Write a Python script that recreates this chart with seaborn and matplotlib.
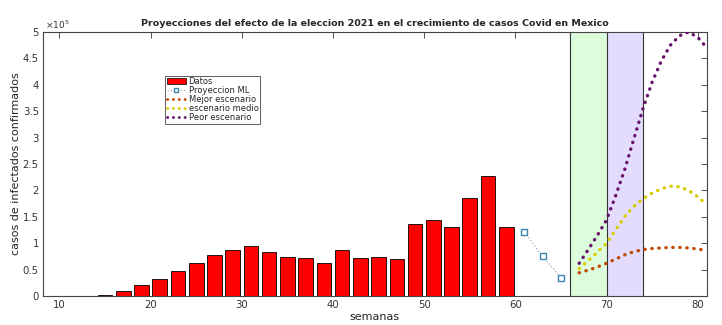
import matplotlib
matplotlib.use("Agg")
import matplotlib.pyplot as plt
import seaborn as sns
import numpy as np
import pandas as pd
from matplotlib.ticker import FuncFormatter, MultipleLocator
from matplotlib.patches import Patch
from matplotlib.lines import Line2D

# ---- data ----
weeks_data = [15, 17, 19, 21, 23, 25, 27, 29, 31, 33, 35, 37, 39, 41, 43, 45, 47, 49, 51, 53, 55, 57, 59]
cases_data = [2700, 9500, 20000, 33000, 47000, 62000, 77000, 87000, 95000, 83000, 73000, 72000, 62000,
              88000, 72000, 74500, 71000, 136000, 144500, 130000, 185600, 227000, 131000]

weeks_ml = [61, 63, 65]
cases_ml = [121000, 75000, 35000]

weeks_proj = [67, 68, 69, 70, 71, 72, 73, 74, 75, 76, 77, 78, 79, 80, 81]
mejor = [44000, 49000, 55000, 62000, 70000, 78000, 84000, 88000, 90000, 91000, 92000, 92000, 91000, 89000, 86000]
medio = [52000, 67000, 83000, 100000, 125000, 151000, 170000, 184000, 195000, 203000, 208000, 207000, 200000, 188000, 173000]
peor = [62000, 88000, 115000, 144000, 190000, 240000, 298000, 355000, 405000, 445000, 475000, 493000, 500000, 490000, 470000]

green_span = (66, 70)
purple_span = (70, 74)

title = "Proyecciones del efecto de la eleccion 2021 en el crecimiento de casos Covid en Mexico"
labels = ["Datos", "Proyeccion ML", "Mejor escenario", "escenario medio", "Peor escenario"]

# ---- style ----
sns.set_theme(style="white")
plt.rcParams['font.family'] = ['DejaVu Sans']
plt.rcParams['xtick.direction'] = 'in'
plt.rcParams['ytick.direction'] = 'in'

fig = plt.figure(figsize=(7.22, 3.25), dpi=100)
ax = fig.add_axes([0.0596, 0.0892, 0.9194, 0.8123])

c_mejor = "#c04800"
c_medio = "#d8cc00"
c_peor = "#66106a"
dot = (0, (0.1, 2.0))

ax.axvspan(*green_span, color="#dcfcdc", zorder=0, lw=0)
ax.axvspan(*purple_span, color="#e3dcfc", zorder=0, lw=0)
for v in (green_span[0], green_span[1], purple_span[1]):
    ax.axvline(v, color="#333333", lw=0.8, zorder=1)

df_bar = pd.DataFrame({"semana": weeks_data, "casos": cases_data})
sns.barplot(data=df_bar, x="semana", y="casos", native_scale=True, width=0.8,
            color="#ff0000", saturation=1, edgecolor="black", linewidth=0.6, ax=ax, zorder=2)

df_ml = pd.DataFrame({"semana": weeks_ml, "casos": cases_ml})
sns.lineplot(data=df_ml, x="semana", y="casos", ax=ax, color="#aaaaaa", lw=0.9, linestyle=":",
             marker="s", markersize=4, markerfacecolor="white", markeredgecolor="#3a86b0",
             markeredgewidth=1.0, zorder=3)

for vals, col in ((mejor, c_mejor), (medio, c_medio), (peor, c_peor)):
    dfp = pd.DataFrame({"semana": weeks_proj, "casos": vals})
    sns.lineplot(data=dfp, x="semana", y="casos", ax=ax, color=col, lw=2.4,
                 linestyle=dot, dash_capstyle="round", zorder=4)

ax.set_xlim(8.2, 81)
ax.set_ylim(0, 500000)
ax.xaxis.set_major_locator(MultipleLocator(10))
ax.yaxis.set_major_locator(MultipleLocator(50000))
ax.yaxis.set_major_formatter(FuncFormatter(lambda v, p: f"{v/1e5:g}"))
ax.tick_params(axis="both", which="both", top=True, right=True, length=4, width=0.6,
               labelsize=7.3, colors="#333333", pad=3)
for s in ax.spines.values():
    s.set_color("#444444")
    s.set_linewidth(0.8)

ax.set_xlabel("semanas", fontsize=8, color="#222222", labelpad=1)
ax.set_ylabel("casos de infectados confirmados", fontsize=8, color="#222222", labelpad=1)
ax.set_title(title, fontsize=6.8, fontweight="bold", pad=4)
ax.text(0.003, 1.005, r"$\times10^5$", transform=ax.transAxes, fontsize=6.5, color="#333333",
        ha="left", va="bottom")

handles = [
    Patch(facecolor="#ff0000", edgecolor="black", linewidth=0.5),
    Line2D([], [], color="#aaaaaa", lw=0.9, linestyle=":", marker="s", markersize=3.5,
           markerfacecolor="white", markeredgecolor="#3a86b0"),
    Line2D([], [], color=c_mejor, lw=2.0, linestyle=dot, dash_capstyle="round"),
    Line2D([], [], color=c_medio, lw=2.0, linestyle=dot, dash_capstyle="round"),
    Line2D([], [], color=c_peor, lw=2.0, linestyle=dot, dash_capstyle="round"),
]
leg = ax.legend(handles, labels, loc="upper left", bbox_to_anchor=(0.184, 0.835), fontsize=6,
                frameon=True, fancybox=False, edgecolor="#333333", borderpad=0.2,
                labelspacing=0.0, handlelength=2.3, handletextpad=0.3, borderaxespad=0)
leg.get_frame().set_linewidth(0.7)

fig.savefig("out.png", dpi=100)
